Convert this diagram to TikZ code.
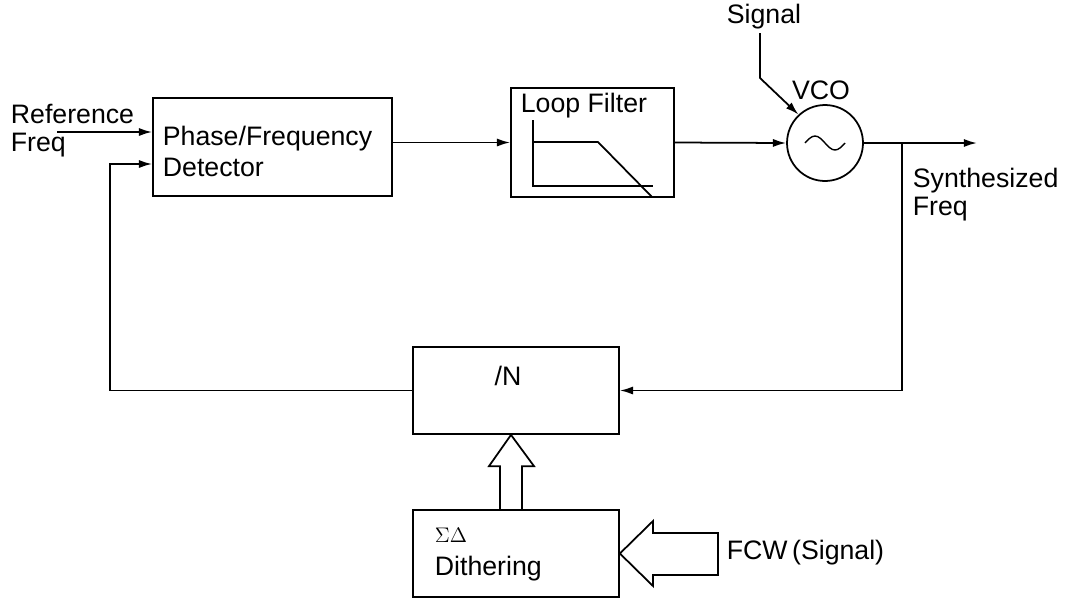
\documentclass[tikz,border=0pt]{standalone}
\usepackage{fontspec}
\setmainfont{Liberation Sans}
\newfontfamily\greekfont{Liberation Serif}
\usetikzlibrary{arrows.meta,calc}
\begin{document}
\begin{tikzpicture}[x=0.02cm,y=-0.02cm,>={Latex[length=7.5pt,width=4.6pt]},line width=1pt,
    blk/.style={draw,rectangle,inner sep=0pt},
    txt/.style={inner sep=0pt,align=left,font=\fontsize{15.2}{16}\selectfont}]
    \useasboundingbox (0,0) rectangle (1075,606);
    % blocks
    \node[blk,minimum width=4.78cm,minimum height=1.96cm] (pfd) at (272.5,147) {};
    \node[blk,minimum width=3.26cm,minimum height=2.18cm] (lf) at (592.5,142.5) {};
    \node[draw,circle,minimum size=1.52cm,inner sep=0pt] (vco) at (825,143) {};
    \node[blk,minimum width=4.12cm,minimum height=1.74cm] (divn) at (516,390.5) {};
    \node[blk,minimum width=4.12cm,minimum height=1.74cm] (sd) at (516,553.5) {};
    % texts
    \node[txt,anchor=north west] (reftxt) at (10,103) {Reference\\Freq};
    \node[txt,anchor=north west,font=\fontsize{15.2}{18}\selectfont] (pfdtxt) at (162,125) {Phase/Frequency\\Detector};
    \node[txt,anchor=north west] (lftxt) at (520,92) {Loop Filter};
    \node[txt] (vcotxt) at (821,90) {VCO};
    \node[txt] (sigtxt) at (764,17) {Signal};
    \node[txt,anchor=north west] (syntxt) at (912,167) {Synthesized\\Freq};
    \node[txt] (divtxt) at (508,376) {/N};
    \node[inner sep=0pt,anchor=base west,font=\greekfont\fontsize{12.5}{13}\selectfont] (sdtxt) at (434,542) {$\Sigma\Delta$};
    \node[txt,anchor=base west] (dithtxt) at (434,575) {Dithering};
    \node[txt,anchor=west] (fcwtxt) at (726,553) {FCW\,(Signal)};
    % loop filter response
    \draw (533,120) -- (533,186) -- (653,186);
    \draw (533,142) -- (598,142) -- (652,197);
    % oscillator symbol
    \draw[line width=0.8pt] (805,143) sin (815,136) cos (825,143) sin (835,150) cos (845,143);
    % connectors
    \coordinate (refin) at (57,132);
    \coordinate (fbk) at (110,164);
    \coordinate (sigtop) at (760,33);
    \coordinate (out) at (977,143);
    \coordinate (tap) at (902,143);
    \draw[->] (refin) -- (refin -| pfd.west);
    \draw[->] (pfd.east |- lf.west) -- (lf.west);
    \draw[->] (lf.east) -- (vco.west);
    \draw[->] (sigtop) -- (760,78) -- (vco.133);
    \draw[->] (vco.east) -- (out);
    \draw[->] (tap) |- (divn.east);
    \draw[->] (divn.west) -| (fbk) -- (fbk -| pfd.west);
    % wide arrows
    \draw[line join=miter] ($(sd.north)+(-16,0)$) -- ++(0,-43) -- ++(-11,0)
        -- ($(divn.south)+(-5,0)$) -- ($(sd.north)+(18,-43)$) -- ++(-12,0) -- ($(sd.north)+(6,0)$);
    \draw[line join=miter] (718,533) -- (653,533) -- (653,521) -- (sd.east)
        -- (653,586) -- (653,575) -- (718,575) -- cycle;
\end{tikzpicture}
\end{document}
